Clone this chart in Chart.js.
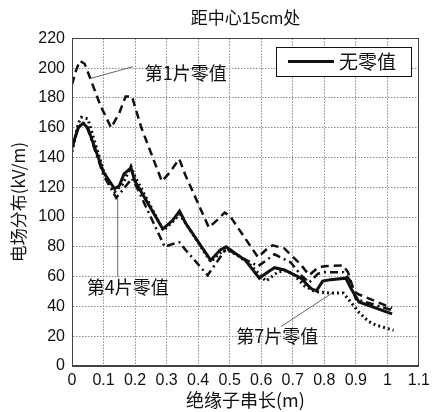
<!DOCTYPE html>
<html>
<head>
<meta charset="utf-8">
<script src="https://cdn.jsdelivr.net/npm/chart.js@4/dist/chart.umd.min.js"></script>
<style>
  html, body { margin: 0; padding: 0; background: #fff; }
  #wrap { width: 435px; height: 412px; }
</style>
</head>
<body>
<div id="wrap"><canvas id="chart"></canvas></div>
<script>
// ── data ──
const TITLE = '距中心15cm处';
const X_TITLE = '绝缘子串长(m)';
const Y_TITLE = '电场分布(kV/m)';
const X_TICKS = [0, 0.1, 0.2, 0.3, 0.4, 0.5, 0.6, 0.7, 0.8, 0.9, 1, 1.1];
const Y_TICKS = [0, 20, 40, 60, 80, 100, 120, 140, 160, 180, 200, 220];

// 无零值 (solid)
const noZeroX = [0, 0.02, 0.035, 0.05, 0.1, 0.135, 0.15, 0.165, 0.187, 0.2, 0.288, 0.32, 0.341, 0.36, 0.44, 0.47, 0.489, 0.515, 0.55, 0.594, 0.62, 0.642, 0.674, 0.726, 0.758, 0.775, 0.795, 0.82, 0.868, 0.885, 0.91, 1.015];
const noZeroY = [147, 160, 163, 160, 130, 119, 121, 129, 133, 124, 92, 98, 104, 96, 71, 78, 80, 76, 71, 59, 63, 66, 64.5, 59, 52, 50.5, 57, 58, 59, 52, 43, 35];

// 第1片零值 (dashed)
const zero1X = [0, 0.012, 0.025, 0.04, 0.06, 0.09, 0.124, 0.15, 0.17, 0.19, 0.22, 0.285, 0.31, 0.34, 0.36, 0.434, 0.46, 0.484, 0.5, 0.59, 0.62, 0.636, 0.673, 0.726, 0.752, 0.78, 0.8, 0.86, 0.875, 0.895, 0.91, 1.015];
const zero1Y = [189, 198, 205, 203, 192, 175, 160, 170, 181, 181, 160, 124, 130, 139, 128, 93, 98, 103, 101, 73, 79, 81, 79, 68, 61, 66, 67, 67.5, 63, 50, 48, 39];

// 第4片零值 (dash-dot)
const zero4X = [0, 0.02, 0.035, 0.05, 0.1, 0.14, 0.16, 0.19, 0.21, 0.294, 0.32, 0.341, 0.36, 0.43, 0.46, 0.489, 0.52, 0.59, 0.642, 0.694, 0.726, 0.752, 0.78, 0.8, 0.86, 0.88, 0.9, 1.015];
const zero4Y = [146, 160, 164, 159, 128, 113, 118, 126, 118, 80, 82, 83, 78, 61, 70, 79, 75, 67, 75, 69.5, 61, 56, 62, 63, 63, 58, 45, 37.5];

// 第7片零值 (dotted)
const zero7X = [0, 0.02, 0.03, 0.05, 0.1, 0.135, 0.16, 0.187, 0.2, 0.29, 0.32, 0.341, 0.36, 0.44, 0.47, 0.49, 0.52, 0.56, 0.615, 0.652, 0.68, 0.705, 0.736, 0.77, 0.82, 0.86, 0.88, 0.91, 0.94, 0.963, 1.02];
const zero7Y = [144, 163, 167, 166, 131, 117, 122, 134, 127, 91, 97, 102, 96, 70, 76, 78, 75, 69, 57, 63, 64, 61, 54, 50, 49, 49, 44, 36, 30, 27.5, 24];

// annotation labels: text, text anchor, leader line ends (data coords)
const NOTES = [
  { text: '第1片零值', at: [0.231, 196.5], from: [0.057, 193], to: [0.193, 201] },
  { text: '第4片零值', at: [0.047, 53], from: [0.145, 113], to: [0.145, 60] },
  { text: '第7片零值', at: [0.521, 20], from: [0.663, 26.5], to: [0.825, 49] },
];

const INK = '#111';
const CJK = '"Noto Sans CJK SC", sans-serif';
const SANS = '"Liberation Sans", "Noto Sans CJK SC", sans-serif';

const toPoints = (xs, ys) => xs.map((x, i) => ({ x, y: ys[i] }));

function series(label, xs, ys, width, dash, inLegend) {
  return {
    label,
    data: toPoints(xs, ys),
    borderColor: INK,
    borderWidth: width,
    borderDash: dash,
    pointRadius: 0,
    tension: 0,
    fill: false,
    inLegend,
  };
}

// frame round the plot area (MATLAB style box)
const framePlugin = {
  id: 'frame',
  afterDatasetsDraw(chart) {
    const { ctx, chartArea: a } = chart;
    ctx.save();
    ctx.strokeStyle = '#444';
    ctx.lineWidth = 1;
    ctx.strokeRect(Math.round(a.left) + 0.5, Math.round(a.top) + 0.5, Math.round(a.width) - 1, Math.round(a.height) - 1);
    ctx.restore();
  },
};

// leader lines and series names written on the plot
const notesPlugin = {
  id: 'notes',
  afterDatasetsDraw(chart) {
    const { ctx, scales: { x, y } } = chart;
    ctx.save();
    ctx.strokeStyle = '#666';
    ctx.lineWidth = 1;
    ctx.fillStyle = INK;
    ctx.font = '18px ' + CJK;
    ctx.textBaseline = 'middle';
    for (const n of NOTES) {
      ctx.beginPath();
      ctx.moveTo(x.getPixelForValue(n.from[0]), y.getPixelForValue(n.from[1]));
      ctx.lineTo(x.getPixelForValue(n.to[0]), y.getPixelForValue(n.to[1]));
      ctx.stroke();
      ctx.fillText(n.text, x.getPixelForValue(n.at[0]), y.getPixelForValue(n.at[1]));
    }
    ctx.restore();
  },
};

// boxed legend in the upper right corner, only for the solid line
const boxLegendPlugin = {
  id: 'boxLegend',
  afterDraw(chart) {
    const { ctx, chartArea: a } = chart;
    const items = chart.data.datasets.filter(d => d.inLegend);
    const w = 135, h = 29;
    const left = Math.round(a.right) - 8 - w, top = Math.round(a.top) + 9;
    ctx.save();
    ctx.fillStyle = '#fff';
    ctx.fillRect(left, top, w, h);
    ctx.strokeStyle = INK;
    ctx.lineWidth = 1;
    ctx.strokeRect(left + 0.5, top + 0.5, w, h);
    items.forEach((d, i) => {
      const cy = top + h / 2 + i * h;
      ctx.strokeStyle = d.borderColor;
      ctx.lineWidth = d.borderWidth;
      ctx.setLineDash(d.borderDash || []);
      ctx.beginPath();
      ctx.moveTo(left + 12, cy);
      ctx.lineTo(left + 58, cy);
      ctx.stroke();
      ctx.fillStyle = INK;
      ctx.font = '19px ' + CJK;
      ctx.textBaseline = 'middle';
      ctx.fillText(d.label, left + 63, cy);
    });
    ctx.restore();
  },
};

new Chart(document.getElementById('chart'), {
  type: 'line',
  data: {
    datasets: [
      series('无零值', noZeroX, noZeroY, 3, [], true),
      series('第1片零值', zero1X, zero1Y, 2.5, [8, 5], false),
      series('第4片零值', zero4X, zero4Y, 2.5, [8, 4, 2, 4], false),
      series('第7片零值', zero7X, zero7Y, 3, [2, 3], false),
    ],
  },
  options: {
    responsive: true,
    maintainAspectRatio: false,
    animation: false,
    layout: { padding: { left: 0, right: 15, top: 0, bottom: 0 } },
    plugins: {
      legend: { display: false },
      tooltip: { enabled: false },
      title: {
        display: true,
        fullSize: false,
        text: TITLE,
        color: INK,
        font: { family: SANS, size: 17, weight: 'normal' },
        padding: { top: 9, bottom: 9 },
      },
    },
    scales: {
      x: {
        type: 'linear',
        min: 0,
        max: 1.1,
        afterBuildTicks: s => { s.ticks = X_TICKS.map(v => ({ value: v })); },
        afterFit: s => { s.height = 46; },
        grid: { color: '#8c8c8c', lineWidth: 1, drawTicks: false },
        border: { display: true, color: '#444', dash: [1.5, 1.5] },
        ticks: {
          color: INK,
          padding: 5,
          maxRotation: 0,
          font: { family: SANS, size: 16 },
          callback: v => String(v),
        },
        title: {
          display: true,
          text: X_TITLE,
          color: INK,
          font: { family: CJK, size: 18 },
          padding: { top: 0, bottom: 1 },
        },
      },
      y: {
        type: 'linear',
        min: 0,
        max: 220,
        afterBuildTicks: s => { s.ticks = Y_TICKS.map(v => ({ value: v })); },
        afterFit: s => { s.width = 72; },
        grid: { color: '#8c8c8c', lineWidth: 1, drawTicks: false },
        border: { display: true, color: '#444', dash: [1.5, 1.5] },
        ticks: {
          color: INK,
          padding: 7,
          font: { family: SANS, size: 16 },
        },
        title: {
          display: true,
          text: Y_TITLE,
          color: INK,
          font: { family: CJK, size: 17 },
          padding: { top: 8, bottom: 0 },
        },
      },
    },
  },
  plugins: [framePlugin, notesPlugin, boxLegendPlugin],
});
</script>
</body>
</html>
